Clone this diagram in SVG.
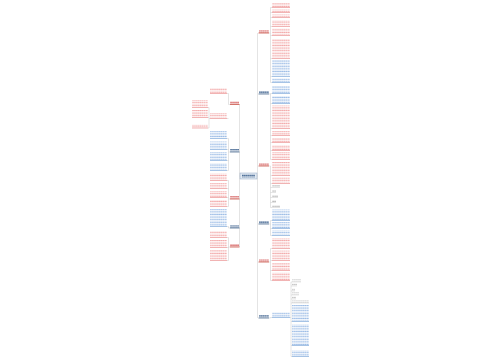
<svg xmlns="http://www.w3.org/2000/svg" width="500" height="360" viewBox="0 0 500 360">
<defs>
<pattern id="pr" width="2.1" height="2.6" patternUnits="userSpaceOnUse"><rect x="0.1" y="0.6" width="1.7" height="1.3" fill="#f3abab"/></pattern>
<pattern id="pb" width="2.1" height="2.6" patternUnits="userSpaceOnUse"><rect x="0.1" y="0.6" width="1.7" height="1.3" fill="#9dbde6"/></pattern>
<pattern id="pg" width="2.1" height="2.6" patternUnits="userSpaceOnUse"><rect x="0.1" y="0.6" width="1.7" height="1.3" fill="#b8b8b8"/></pattern>
<pattern id="pdr" width="2.1" height="2.6" patternUnits="userSpaceOnUse"><rect x="0.1" y="0.4" width="1.8" height="1.7" fill="#d86a6a"/></pattern>
<pattern id="pdb" width="2.1" height="2.6" patternUnits="userSpaceOnUse"><rect x="0.1" y="0.4" width="1.8" height="1.7" fill="#52729a"/></pattern>
</defs>
<style>
.r{fill:url(#pr)}.b{fill:url(#pb)}.g{fill:url(#pg)}.dr{fill:url(#pdr)}.db{fill:url(#pdb)}
.ur{stroke:#e88080;stroke-width:.6}.ub{stroke:#6a9ad3;stroke-width:.6}.ug{stroke:#cccccc;stroke-width:.5}
.udr{stroke:#c0392b;stroke-width:.7}.udb{stroke:#3b5b85;stroke-width:.7}
.c{stroke:#c8c8c8;stroke-width:.5;fill:none}
</style>
<rect width="500" height="360" fill="#ffffff"/>
<g id="connectors">
<path class="c" d="M240 176H239.5M239.5 104.5V247M257 176H257.5M257.5 33V318"/>
<path class="c" d="M230 104.5H228.5V93.5H227M228.5 118.5H227M210 118.5H209V107.5H208M209 117.5H208M209 118.5V128H208"/>
<path class="c" d="M230 152H228.5V138.5H227M228.5 149.5H227M228.5 160.5H227M228.5 152V170.5H227"/>
<path class="c" d="M230 199H228.5V180.5H227M228.5 188.5H227M228.5 197.5H227M228.5 199V206.5H227"/>
<path class="c" d="M230 228H228.5V226.5H227"/>
<path class="c" d="M230 247H228.5V237.5H227M228.5 247.5H227M228.5 247V260.5H227"/>
<path class="c" d="M269 33H270.5V7.5H272M270.5 12.5H272M270.5 17.5H272M270.5 26.5H272M270.5 35.5H272M270.5 33V82.5H272M270.5 58.5H272M270.5 76.5H272"/>
<path class="c" d="M269 94H270.5V93.5H272M270.5 94V159.5H272M270.5 103.5H272M270.5 128.5H272M270.5 135.5H272M270.5 142.5H272M270.5 150.5H272"/>
<path class="c" d="M269 166H270.5V175.5H272M270.5 175.5V207.5H272M270.5 183.5H272M270.5 187.5H272M270.5 192.5H272M270.5 197.5H272M270.5 202.5H272"/>
<path class="c" d="M269 224H270.5V220.5H272M270.5 224V235.5H272M270.5 228.5H272"/>
<path class="c" d="M269 262H270.5V248.5H272M270.5 260.5H272M270.5 262V280.5H272M270.5 270.5H272"/>
<path class="c" d="M269 318H270.5V317.5H272M290 317.5H291V282H292M291 286H292M291 291H292M291 295H292M291 299H292M291 303H292M291 317.5V356.5H292M291 321.5H292M291 345.5H292"/>
</g>
<g id="center"><rect x="240" y="173" width="17" height="6" fill="#e1e9f2" stroke="#93a9c3" stroke-width=".5"/><rect class="db" x="242" y="174.5" width="13" height="3"/></g>
<g id="L1"><rect class="dr" x="230" y="101.5" width="9" height="2.5"/><line class="udr" x1="230" y1="104.5" x2="239.5" y2="104.5"/></g>
<g id="L1a"><rect class="r" x="210" y="88" width="17" height="5"/><line class="ur" x1="210" y1="93.5" x2="227" y2="93.5"/></g>
<g id="L1b"><rect class="r" x="210" y="113" width="17" height="5"/><line class="ur" x1="210" y1="118.5" x2="227" y2="118.5"/></g>
<g id="L1b1"><rect class="r" x="192" y="100" width="16" height="7"/><line class="ur" x1="192" y1="107.5" x2="208" y2="107.5"/></g>
<g id="L1b2"><rect class="r" x="192" y="110" width="16" height="7"/><line class="ur" x1="192" y1="117.5" x2="208" y2="117.5"/></g>
<g id="L1b3"><rect class="r" x="192" y="124.5" width="16" height="3"/><line class="ur" x1="192" y1="128" x2="208" y2="128"/></g>
<g id="L2"><rect class="db" x="230" y="149" width="9" height="2.5"/><line class="udb" x1="230" y1="152" x2="239.5" y2="152"/></g>
<g id="L2a"><rect class="b" x="210" y="131" width="17" height="7"/><line class="ub" x1="210" y1="138.5" x2="227" y2="138.5"/></g>
<g id="L2b"><rect class="b" x="210" y="141.5" width="17" height="7.5"/><line class="ub" x1="210" y1="149.5" x2="227" y2="149.5"/></g>
<g id="L2c"><rect class="b" x="210" y="152" width="17" height="8"/><line class="ub" x1="210" y1="160.5" x2="227" y2="160.5"/></g>
<g id="L2d"><rect class="b" x="210" y="163" width="17" height="7"/><line class="ub" x1="210" y1="170.5" x2="227" y2="170.5"/></g>
<g id="L3"><rect class="dr" x="230" y="196" width="9" height="2.5"/><line class="udr" x1="230" y1="199" x2="239.5" y2="199"/></g>
<g id="L3a"><rect class="r" x="210" y="173.5" width="17" height="6.5"/><line class="ur" x1="210" y1="180.5" x2="227" y2="180.5"/></g>
<g id="L3b"><rect class="r" x="210" y="183" width="17" height="5"/><line class="ur" x1="210" y1="188.5" x2="227" y2="188.5"/></g>
<g id="L3c"><rect class="r" x="210" y="191" width="17" height="6"/><line class="ur" x1="210" y1="197.5" x2="227" y2="197.5"/></g>
<g id="L3d"><rect class="r" x="210" y="200" width="17" height="6"/><line class="ur" x1="210" y1="206.5" x2="227" y2="206.5"/></g>
<g id="L4"><rect class="db" x="230" y="225" width="9" height="2.5"/><line class="udb" x1="230" y1="228" x2="239.5" y2="228"/></g>
<g id="L4a"><rect class="b" x="210" y="209" width="17" height="17"/><line class="ub" x1="210" y1="226.5" x2="227" y2="226.5"/></g>
<g id="L5"><rect class="dr" x="230" y="244" width="9" height="2.5"/><line class="udr" x1="230" y1="247" x2="239.5" y2="247"/></g>
<g id="L5a"><rect class="r" x="210" y="231" width="17" height="6"/><line class="ur" x1="210" y1="237.5" x2="227" y2="237.5"/></g>
<g id="L5b"><rect class="r" x="210" y="240" width="17" height="7"/><line class="ur" x1="210" y1="247.5" x2="227" y2="247.5"/></g>
<g id="L5c"><rect class="r" x="210" y="250" width="17" height="10"/><line class="ur" x1="210" y1="260.5" x2="227" y2="260.5"/></g>
<g id="R1"><rect class="dr" x="259" y="30" width="10" height="2.5"/><line class="udr" x1="258.5" y1="33" x2="269" y2="33"/></g>
<g id="R1a"><rect class="r" x="272" y="3" width="18" height="4"/><line class="ur" x1="272" y1="7.5" x2="290" y2="7.5"/></g>
<g id="R1b"><rect class="r" x="272" y="9.5" width="18" height="2.5"/><line class="ur" x1="272" y1="12.5" x2="290" y2="12.5"/></g>
<g id="R1c"><rect class="r" x="272" y="14.5" width="18" height="2.5"/><line class="ur" x1="272" y1="17.5" x2="290" y2="17.5"/></g>
<g id="R1d"><rect class="r" x="272" y="20" width="18" height="6"/><line class="ur" x1="272" y1="26.5" x2="290" y2="26.5"/></g>
<g id="R1e"><rect class="r" x="272" y="28.5" width="18" height="6.5"/><line class="ur" x1="272" y1="35.5" x2="290" y2="35.5"/></g>
<g id="R1f"><rect class="r" x="272" y="39" width="18" height="19"/><line class="ur" x1="272" y1="58.5" x2="290" y2="58.5"/></g>
<g id="R1g"><rect class="b" x="272" y="60" width="18" height="16"/><line class="ub" x1="272" y1="76.5" x2="290" y2="76.5"/></g>
<g id="R1h"><rect class="b" x="272" y="78.5" width="18" height="3.5"/><line class="ub" x1="272" y1="82.5" x2="290" y2="82.5"/></g>
<g id="R2"><rect class="db" x="259" y="91" width="10" height="2.5"/><line class="udb" x1="258.5" y1="94" x2="269" y2="94"/></g>
<g id="R2a"><rect class="b" x="272" y="86" width="18" height="7"/><line class="ub" x1="272" y1="93.5" x2="290" y2="93.5"/></g>
<g id="R2b"><rect class="b" x="272" y="96" width="18" height="7"/><line class="ub" x1="272" y1="103.5" x2="290" y2="103.5"/></g>
<g id="R2c"><rect class="r" x="272" y="105.5" width="18" height="22.5"/><line class="ur" x1="272" y1="128.5" x2="290" y2="128.5"/></g>
<g id="R2d"><rect class="r" x="272" y="131" width="18" height="4"/><line class="ur" x1="272" y1="135.5" x2="290" y2="135.5"/></g>
<g id="R2e"><rect class="r" x="272" y="138" width="18" height="4"/><line class="ur" x1="272" y1="142.5" x2="290" y2="142.5"/></g>
<g id="R2f"><rect class="r" x="272" y="145" width="18" height="5"/><line class="ur" x1="272" y1="150.5" x2="290" y2="150.5"/></g>
<g id="R2g"><rect class="r" x="272" y="152" width="18" height="7"/><line class="ur" x1="272" y1="159.5" x2="290" y2="159.5"/></g>
<g id="R3"><rect class="dr" x="259" y="163" width="10" height="2.5"/><line class="udr" x1="258.5" y1="166" x2="269" y2="166"/></g>
<g id="R3a"><rect class="r" x="272" y="162" width="18" height="13"/><line class="ur" x1="272" y1="175.5" x2="290" y2="175.5"/></g>
<g id="R3b"><rect class="r" x="272" y="177.5" width="18" height="5.5"/><line class="ur" x1="272" y1="183.5" x2="290" y2="183.5"/></g>
<g id="R3c"><rect class="g" x="272" y="185" width="8" height="2.2"/><line class="ug" x1="272" y1="187.5" x2="280" y2="187.5"/></g>
<g id="R3d"><rect class="g" x="272" y="190" width="4" height="2.2"/><line class="ug" x1="272" y1="192.5" x2="276" y2="192.5"/></g>
<g id="R3e"><rect class="g" x="272" y="195" width="6" height="2.2"/><line class="ug" x1="272" y1="197.5" x2="278" y2="197.5"/></g>
<g id="R3f"><rect class="g" x="272" y="200" width="4" height="2.2"/><line class="ug" x1="272" y1="202.5" x2="276" y2="202.5"/></g>
<g id="R3g"><rect class="g" x="272" y="205" width="8" height="2.2"/><line class="ug" x1="272" y1="207.5" x2="280" y2="207.5"/></g>
<g id="R4"><rect class="db" x="259" y="221" width="10" height="2.5"/><line class="udb" x1="258.5" y1="224" x2="269" y2="224"/></g>
<g id="R4a"><rect class="b" x="272" y="209.5" width="18" height="10.5"/><line class="ub" x1="272" y1="220.5" x2="290" y2="220.5"/></g>
<g id="R4b"><rect class="b" x="272" y="222" width="18" height="6"/><line class="ub" x1="272" y1="228.5" x2="290" y2="228.5"/></g>
<g id="R4c"><rect class="b" x="272" y="230.5" width="18" height="4.5"/><line class="ub" x1="272" y1="235.5" x2="290" y2="235.5"/></g>
<g id="R5"><rect class="dr" x="259" y="259" width="10" height="2.5"/><line class="udr" x1="258.5" y1="262" x2="269" y2="262"/></g>
<g id="R5a"><rect class="r" x="272" y="238" width="18" height="10"/><line class="ur" x1="272" y1="248.5" x2="290" y2="248.5"/></g>
<g id="R5b"><rect class="r" x="272" y="250.5" width="18" height="9.5"/><line class="ur" x1="272" y1="260.5" x2="290" y2="260.5"/></g>
<g id="R5c"><rect class="r" x="272" y="263" width="18" height="7"/><line class="ur" x1="272" y1="270.5" x2="290" y2="270.5"/></g>
<g id="R5d"><rect class="r" x="272" y="272.5" width="18" height="7.5"/><line class="ur" x1="272" y1="280.5" x2="290" y2="280.5"/></g>
<g id="R6"><rect class="db" x="259" y="315" width="10" height="2.5"/><line class="udb" x1="258.5" y1="318" x2="269" y2="318"/></g>
<g id="R6a"><rect class="b" x="272" y="312.5" width="18" height="4.5"/><line class="ub" x1="272" y1="317.5" x2="290" y2="317.5"/></g>
<g id="R6a1"><rect class="g" x="292" y="279.5" width="9" height="2.2"/><line class="ug" x1="292" y1="282" x2="301" y2="282"/></g>
<g id="R6a2"><rect class="g" x="292" y="283.5" width="5" height="2.2"/><line class="ug" x1="292" y1="286" x2="297" y2="286"/></g>
<g id="R6a3"><rect class="g" x="292" y="288.5" width="3" height="2.2"/><line class="ug" x1="292" y1="291" x2="295" y2="291"/></g>
<g id="R6a4"><rect class="g" x="292" y="292.5" width="7" height="2.2"/><line class="ug" x1="292" y1="295" x2="299" y2="295"/></g>
<g id="R6a5"><rect class="g" x="292" y="296.5" width="4" height="2.2"/><line class="ug" x1="292" y1="299" x2="296" y2="299"/></g>
<g id="R6a6"><rect class="g" x="292" y="300.5" width="17" height="2.2"/><line class="ug" x1="292" y1="303" x2="309" y2="303"/></g>
<g id="R6a7"><rect class="b" x="292" y="305" width="17" height="16"/><line class="ub" x1="292" y1="321.5" x2="309" y2="321.5"/></g>
<g id="R6a8"><rect class="b" x="292" y="324" width="17" height="21"/><line class="ub" x1="292" y1="345.5" x2="309" y2="345.5"/></g>
<g id="R6a9"><rect class="b" x="292" y="350" width="17" height="6"/><line class="ub" x1="292" y1="356.5" x2="309" y2="356.5"/></g>
</svg>
